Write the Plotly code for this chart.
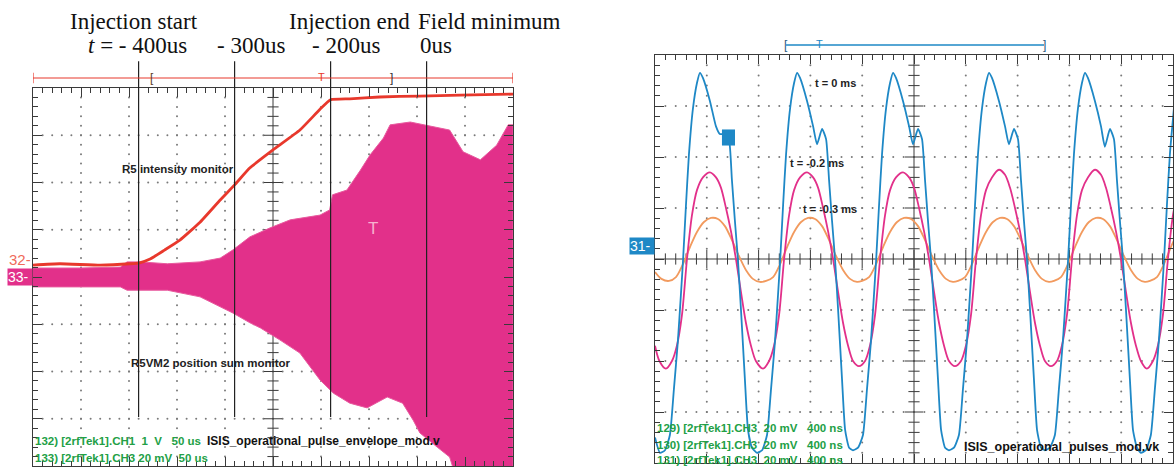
import plotly.graph_objects as go

# ---------------- Left scope: pulse envelope (x: screen time in µs, y: divisions) ----------------
red_t = [0, 28, 70, 101, 111, 122, 137, 153, 174, 195, 210, 226, 250, 278, 299, 310, 330, 361, 403, 445, 500]
red_y = [0.25, 0.28, 0.25, 0.28, 0.30, 0.38, 0.57, 0.78, 1.16, 1.63, 1.95, 2.31, 2.69, 3.11, 3.55, 3.75,
         3.77, 3.81, 3.83, 3.85, 3.87]

env_top_t = [0, 49, 91, 98, 112, 140, 174, 195, 208, 226, 247, 268, 299, 309, 312, 327, 341, 351, 365,
             372, 393, 408, 434, 448, 466, 483, 495, 500]
env_top_y = [0.19, 0.19, 0.21, 0.32, 0.32, 0.28, 0.32, 0.40, 0.57, 0.85, 1.04, 1.21, 1.31, 1.42, 1.74,
             1.84, 2.26, 2.58, 2.94, 3.22, 3.28, 3.22, 3.11, 2.65, 2.48, 2.79, 3.22, 3.22]
env_bot_t = [0, 91, 98, 140, 174, 208, 226, 237, 257, 278, 299, 313, 330, 348, 369, 385, 396, 403, 421,
             434, 440, 500]
env_bot_y = [-0.21, -0.21, -0.28, -0.28, -0.42, -0.76, -0.97, -1.08, -1.33, -1.61, -2.18, -2.46, -2.67,
             -2.77, -2.54, -2.67, -3.03, -3.30, -3.60, -3.81, -4.2, -4.2]

event_t = [110, 210, 310, 410]

# ---------------- Right scope: RF pulses (x: ns, y: mV) ----------------
blue_t = [0,
          38, 77, 115, 146, 177, 200, 216, 239, 262, 293, 324, 347, 370, 424, 471, 501, 540, 571, 594, 617, 640, 664, 694, 718, 749,
          788, 827, 865, 896, 927, 950, 966, 989, 1012, 1043, 1074, 1097, 1120, 1174, 1221, 1251, 1290, 1321, 1344, 1367, 1390, 1414, 1444, 1468, 1499,
          1529, 1568, 1606, 1637, 1668, 1691, 1707, 1730, 1753, 1784, 1815, 1838, 1861, 1915, 1962, 1992, 2031, 2062, 2085, 2108, 2131, 2155, 2185, 2209, 2240,
          2270, 2309, 2347, 2378, 2409, 2432, 2448, 2471, 2494, 2525, 2556, 2579, 2602, 2656, 2703, 2733, 2772, 2803, 2826, 2849, 2872, 2896, 2926, 2950, 2981,
          3011, 3050, 3088, 3119, 3150, 3173, 3189, 3212, 3235, 3266, 3297, 3320, 3343, 3397, 3444, 3474, 3513, 3544, 3567, 3590, 3613, 3637, 3667, 3691, 3722,
          3752, 3791, 3829, 3860, 3891, 3914, 3930, 3953, 3976, 4007]
blue_mv = [-70,
           -76, -75, -69, -51, -32, -14, -1, 21, 41, 59, 69, 73, 71, 62, 52, 49, 49, 47, 31, 15, 0, -20, -47, -67, -74,
           -76, -75, -69, -51, -32, -14, -1, 21, 41, 59, 69, 73, 71, 62, 52, 45, 51, 47, 31, 15, 0, -20, -47, -67, -74,
           -75, -74, -69, -51, -32, -14, -1, 21, 41, 59, 69, 73, 71, 62, 52, 45, 51, 47, 31, 15, 0, -20, -47, -67, -74,
           -75, -74, -69, -51, -32, -14, -1, 21, 41, 59, 69, 73, 71, 62, 52, 45, 51, 47, 31, 15, 0, -20, -47, -67, -74,
           -75, -74, -69, -51, -32, -14, -1, 21, 41, 59, 69, 73, 71, 62, 52, 44, 51, 47, 31, 15, 0, -20, -47, -67, -74,
           -76, -75, -69, -51, -32, -14, -1, 21, 41, 59]

pink_t = [0, 34,
          84, 131, 169, 208, 247, 285, 324, 370, 424, 471, 509, 548, 586, 625, 664, 702, 741, 779,
          834, 881, 919, 958, 997, 1035, 1074, 1120, 1174, 1221, 1259, 1298, 1336, 1375, 1414, 1452, 1491, 1529,
          1575, 1622, 1660, 1699, 1738, 1776, 1815, 1861, 1915, 1962, 2000, 2039, 2077, 2116, 2155, 2193, 2232, 2270,
          2316, 2363, 2401, 2440, 2479, 2517, 2556, 2602, 2656, 2703, 2741, 2780, 2818, 2857, 2896, 2934, 2973, 3011,
          3057, 3104, 3142, 3181, 3220, 3258, 3297, 3343, 3397, 3444, 3482, 3521, 3559, 3598, 3637, 3675, 3714, 3752,
          3798, 3845, 3883, 3922, 3961, 3999, 4038]
pink_mv = [-34, -40,
           -43, -40, -34, -22, 0, 17, 27, 32, 34, 32, 28, 20, 11, 0, -13, -25, -34, -40,
           -43, -40, -34, -22, 0, 17, 27, 32, 34, 32, 28, 20, 11, 0, -13, -25, -34, -40,
           -42, -40, -34, -22, 0, 17, 27, 32, 34, 32, 28, 20, 11, 0, -13, -25, -34, -40,
           -42, -40, -34, -22, 0, 17, 27, 32, 35, 33, 28, 20, 11, 0, -13, -25, -34, -40,
           -42, -40, -34, -22, 0, 17, 27, 32, 35, 33, 28, 20, 11, 0, -13, -25, -34, -40,
           -43, -40, -34, -22, 0, 17, 27]

orange_t = [0, 50,
            108, 162, 216, 270, 324, 378, 432, 486, 540, 594, 648, 702, 756, 810,
            858, 912, 966, 1020, 1074, 1128, 1182, 1236, 1290, 1344, 1398, 1452, 1506, 1560,
            1599, 1653, 1707, 1761, 1815, 1869, 1923, 1977, 2031, 2085, 2139, 2193, 2247, 2301,
            2340, 2394, 2448, 2502, 2556, 2610, 2664, 2718, 2772, 2826, 2880, 2934, 2988, 3042,
            3081, 3135, 3189, 3243, 3297, 3351, 3405, 3459, 3513, 3567, 3621, 3675, 3729, 3783,
            3822, 3876, 3930, 3984, 4038]
orange_mv = [-5.1, -7.8,
             -8.6, -7.1, -2.0, 4.7, 10.6, 14.5, 16.1, 15.7, 12.9, 7.4, 1.2, -4.3, -7.8, -9.0,
             -8.6, -7.1, -2.0, 4.7, 10.6, 14.5, 16.1, 15.7, 12.9, 7.4, 1.2, -4.3, -7.8, -9.0,
             -8.6, -7.1, -2.0, 4.7, 10.6, 14.5, 16.1, 15.7, 12.9, 7.4, 1.2, -4.3, -7.8, -9.0,
             -8.6, -7.1, -2.0, 4.7, 10.6, 14.5, 16.1, 15.7, 12.9, 7.4, 1.2, -4.3, -7.8, -9.0,
             -8.6, -7.1, -2.0, 4.7, 10.6, 14.5, 16.1, 15.7, 12.9, 7.4, 1.2, -4.3, -7.8, -9.0,
             -8.6, -7.1, -2.0, 4.7, 10.6]

# ---------------- styling ----------------
AX = "#3a3a3a"
DOT = "#7a7a7a"
RED = "#E8382C"
PINK = "#E2308A"
BLUE = "#1E88C6"
ORANGE = "#F29A5E"
GREEN = "#22A046"
SANS = "Liberation Sans"
SERIF = "Liberation Serif"
NB = "\u00a0"

fig = go.Figure()


def graticule(xa, ya, xmax, ymax, xdiv, ydiv, xcenter):
    """Scope graticule: dotted major lines and tick marks on the centre cross."""
    dx, dy = [], []
    xminor, yminor = xdiv / 5, ydiv / 5
    for i in range(1, 10):
        if i == 5:
            continue
        for k in range(1, 40):
            dx.append(i * xdiv)
            dy.append(-ymax + k * yminor)
    for j in range(-3, 4):
        if j == 0:
            continue
        for k in range(1, 50):
            dx.append(k * xminor)
            dy.append(j * ydiv)
    fig.add_trace(go.Scatter(x=dx, y=dy, mode="markers", xaxis=xa, yaxis=ya, hoverinfo="skip",
                             marker=dict(size=2, color=DOT), showlegend=False))
    fig.add_trace(go.Scatter(x=[0, xmax, None, xcenter, xcenter], y=[0, 0, None, -ymax, ymax],
                             mode="lines", xaxis=xa, yaxis=ya, hoverinfo="skip",
                             line=dict(color=AX, width=1), showlegend=False))
    for major in (False, True):
        tx = [k * xminor for k in range(1, 50) if (k % 5 == 0) == major]
        fig.add_trace(go.Scatter(x=tx, y=[0] * len(tx), mode="markers", xaxis=xa, yaxis=ya,
                                 hoverinfo="skip", showlegend=False,
                                 marker=dict(symbol="line-ns", size=13 if major else 8,
                                             line=dict(color=AX, width=1))))
        ty = [-ymax + k * yminor for k in range(1, 40) if (k % 5 == 0) == major]
        fig.add_trace(go.Scatter(x=[xcenter] * len(ty), y=ty, mode="markers", xaxis=xa, yaxis=ya,
                                 hoverinfo="skip", showlegend=False,
                                 marker=dict(symbol="line-ew", size=13 if major else 8,
                                             line=dict(color=AX, width=1))))


graticule("x", "y", 500, 4, 50, 1, 250)
graticule("x2", "y2", 4000, 80, 400, 20, 2000)

# ---- left scope traces ----
fig.add_trace(go.Scatter(x=env_top_t + env_bot_t[::-1], y=env_top_y + env_bot_y[::-1],
                         fill="toself", fillcolor=PINK, mode="lines",
                         line=dict(color="#E85A9E", width=1), xaxis="x", yaxis="y",
                         hoverinfo="skip", showlegend=False))
fig.add_trace(go.Scatter(x=red_t, y=red_y, mode="lines",
                         line=dict(color=RED, width=2.8, shape="spline", smoothing=0.4),
                         xaxis="x", yaxis="y", hoverinfo="skip", showlegend=False))

# ---- right scope traces ----
fig.add_trace(go.Scatter(x=orange_t, y=orange_mv, mode="lines",
                         line=dict(color=ORANGE, width=1.8, shape="spline", smoothing=0.8),
                         xaxis="x2", yaxis="y2", hoverinfo="skip", showlegend=False))
fig.add_trace(go.Scatter(x=pink_t, y=pink_mv, mode="lines",
                         line=dict(color=PINK, width=1.8, shape="spline", smoothing=0.8),
                         xaxis="x2", yaxis="y2", hoverinfo="skip", showlegend=False))
fig.add_trace(go.Scatter(x=blue_t, y=blue_mv, mode="lines",
                         line=dict(color=BLUE, width=1.8, shape="spline", smoothing=0.5),
                         xaxis="x2", yaxis="y2", hoverinfo="skip", showlegend=False))

shapes = []
annotations = []

for t in event_t:
    shapes.append(dict(type="line", xref="x", yref="paper", x0=t, x1=t, y0=0.107, y1=0.869,
                       line=dict(color="#222222", width=1.2)))

shapes.append(dict(type="line", xref="x", yref="paper", x0=0, x1=500, y0=0.833, y1=0.833,
                   line=dict(color=RED, width=1.2)))
for xe in (0, 500):
    shapes.append(dict(type="line", xref="x", yref="paper", x0=xe, x1=xe, y0=0.822, y1=0.844,
                       line=dict(color=RED, width=1.2)))
shapes.append(dict(type="line", xref="x2", yref="paper", x0=1012, x1=3004, y0=0.9036, y1=0.9036,
                   line=dict(color=BLUE, width=1.4)))
shapes.append(dict(type="rect", xref="x2", yref="y2", x0=517, x1=618, y0=44.5, y1=50.8,
                   fillcolor=BLUE, line=dict(width=0)))


def ann(text, x, y, xref, yref, size, color, family=SANS, xanchor="center", bold=False, **kw):
    annotations.append(dict(text=f"<b>{text}</b>" if bold else text, x=x, y=y, xref=xref, yref=yref,
                            showarrow=False, xanchor=xanchor, yanchor="middle",
                            font=dict(family=family, size=size, color=color), **kw))


ann("[", 124, 0.833, "x", "paper", 12, "#5a3a2a")
ann("T", 301, 0.835, "x", "paper", 11, RED)
ann("]", 373, 0.833, "x", "paper", 12, "#333333")
ann("[", 1012, 0.9036, "x2", "paper", 12, "#2a5a80")
ann("T", 1274, 0.906, "x2", "paper", 11, BLUE)
ann("]", 3004, 0.9036, "x2", "paper", 12, "#2a5a80")

hdr_y1, hdr_y2 = 1 - 21 / 467, 1 - 45 / 467
ann("Injection start", 105, hdr_y1, "x", "paper", 23, "#111111", SERIF)
ann("<i>t</i> = - 400us", 109, hdr_y2, "x", "paper", 23, "#111111", SERIF)
ann("- 300us", 227, hdr_y2, "x", "paper", 23, "#111111", SERIF)
ann("Injection end", 330, hdr_y1, "x", "paper", 23, "#111111", SERIF)
ann("- 200us", 326, hdr_y2, "x", "paper", 23, "#111111", SERIF)
ann("Field minimum", 475, hdr_y1, "x", "paper", 23, "#111111", SERIF)
ann("0us", 420, hdr_y2, "x", "paper", 23, "#111111", SERIF)

ann("R5 intensity monitor", 151, 2.29, "x", "y", 11.5, "#222222", bold=True)
ann("R5VM2 position sum monitor", 185, -1.82, "x", "y", 11.5, "#222222", bold=True)
ann("T", 354, 1.02, "x", "y", 17, "#F6B2CF")
ann(f"132){NB}[2rfTek1].CH1{NB}{NB}1{NB}{NB}V{NB}{NB}{NB}50{NB}us", 0, -3.47, "x", "y", 11.5, GREEN, bold=True, xanchor="left")
ann(f"133){NB}[2rfTek1].CH3{NB}20{NB}mV{NB}{NB}50{NB}us", 0, -3.83, "x", "y", 11.5, GREEN, bold=True, xanchor="left")
ann("ISIS_operational_pulse_envelope_mod.v", 179, -3.47, "x", "y", 12, "#111111", bold=True, xanchor="left")
ann("32-", 0, 0.36, "x", "y", 15, "#F06A5A", xanchor="right")
ann(f"33-{NB}", 0, 0.0, "x", "y", 14, "white", xanchor="right", bgcolor=PINK, borderpad=0)

ann("t = 0 ms", 1390, 69, "x2", "y2", 11, "#222222", bold=True)
ann("t = -0.2 ms", 1251, 37.6, "x2", "y2", 11, "#222222", bold=True)
ann("t = -0.3 ms", 1351, 19.6, "x2", "y2", 11, "#222222", bold=True)
ann(f"129){NB}[2rfTek1].CH3{NB}{NB}20{NB}mV{NB}{NB}{NB}400{NB}ns", 0, -66.2, "x2", "y2", 11.5, GREEN, bold=True, xanchor="left")
ann(f"130){NB}[2rfTek1].CH3{NB}{NB}20{NB}mV{NB}{NB}{NB}400{NB}ns", 0, -72.9, "x2", "y2", 11.5, GREEN, bold=True, xanchor="left")
ann(f"131){NB}[2rfTek1].CH3{NB}{NB}20{NB}mV{NB}{NB}{NB}400{NB}ns", 0, -78.8, "x2", "y2", 11.5, GREEN, bold=True, xanchor="left")
ann("ISIS_operational_pulses_mod.vk", 2371, -73.7, "x2", "y2", 12.5, "#111111", bold=True, xanchor="left")
ann(f"31-{NB}", 0, 5, "x2", "y2", 14, "white", xanchor="right", bgcolor=BLUE, borderpad=0)


def axis(domain, rng, dtick, minor, anchor):
    return dict(domain=domain, range=rng, anchor=anchor, showline=True, mirror="ticks",
                linecolor=AX, linewidth=1, ticks="inside", ticklen=9, tickcolor=AX, tickwidth=1,
                dtick=dtick, tick0=rng[0],
                minor=dict(ticks="inside", ticklen=5, dtick=minor, tickcolor=AX, tickwidth=1),
                showticklabels=False, showgrid=False, zeroline=False, fixedrange=True)


fig.update_layout(
    width=1176, height=467,
    margin=dict(l=0, r=0, t=0, b=0),
    paper_bgcolor="white", plot_bgcolor="white",
    showlegend=False,
    xaxis=axis([33 / 1176, 513 / 1176], [0, 500], 50, 10, "y"),
    yaxis=axis([1 - 466 / 467, 1 - 88 / 467], [-4, 4], 1, 0.2, "x"),
    xaxis2=axis([655 / 1176, 1173 / 1176], [0, 4000], 400, 80, "y2"),
    yaxis2=axis([1 - 463 / 467, 1 - 55 / 467], [-80, 80], 20, 4, "x2"),
    shapes=shapes,
    annotations=annotations,
)

fig.write_html("out.html")
